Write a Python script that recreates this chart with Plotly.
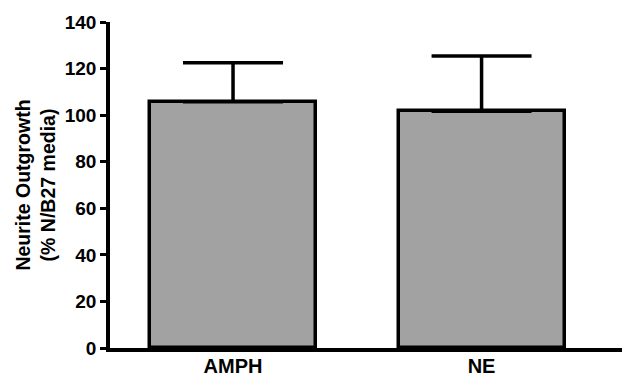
import plotly.graph_objects as go

categories = ["AMPH", "NE"]
means = [105.7, 101.7]
sem_upper = [16.8, 23.7]
y_ticks = [0, 20, 40, 60, 80, 100, 120, 140]
y_title = "Neurite Outgrowth<br>(% N/B27 media)"

xpos = list(range(len(categories)))
font_family = "Arial, 'Liberation Sans', sans-serif"

fig = go.Figure()
fig.add_trace(go.Bar(
    x=xpos,
    y=means,
    width=0.668,
    marker=dict(color="#a2a2a2", line=dict(color="black", width=3.5)),
    error_y=dict(type="data", symmetric=False, array=sem_upper,
                 arrayminus=[0] * len(means),
                 color="black", thickness=3.5, width=50),
    showlegend=False,
))

fig.update_layout(
    width=622, height=376,
    margin=dict(l=110, r=0, t=22, b=28, autoexpand=False),
    plot_bgcolor="white", paper_bgcolor="white",
    font=dict(family=font_family, color="black", size=19, weight="bold"),
    bargap=0,
)
fig.update_xaxes(
    range=[-0.495, 1.565],
    tickvals=xpos, ticktext=categories,
    showline=True, linecolor="black", linewidth=3.5,
    ticks="", showgrid=False, zeroline=False, automargin=False,
    tickfont=dict(size=20, weight="bold"),
    ticklabelstandoff=-3,
)
fig.update_yaxes(
    range=[0, 140],
    tickvals=y_ticks,
    showline=True, linecolor="black", linewidth=3.5,
    ticks="outside", ticklen=6, tickwidth=3, tickcolor="black",
    showgrid=False, zeroline=False, automargin=False,
    tickfont=dict(size=19, weight="bold"),
    title=dict(text=y_title, font=dict(size=19.5, weight="bold"), standoff=5),
)

fig.write_html(
    "out.html",
    config={"displayModeBar": False},
    post_script="document.body.style.margin='0';document.body.style.overflow='hidden';",
)
